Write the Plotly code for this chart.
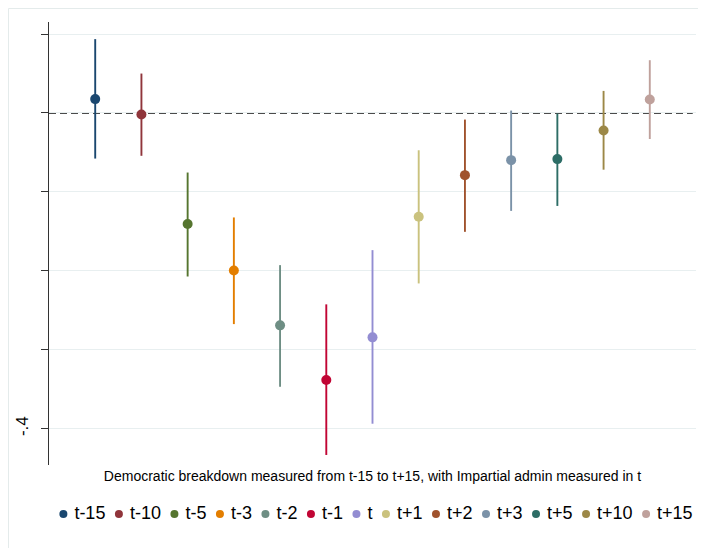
import plotly.graph_objects as go

# ---------------- data ----------------
labels = ["t-15", "t-10", "t-5", "t-3", "t-2", "t-1", "t",
          "t+1", "t+2", "t+3", "t+5", "t+10", "t+15"]
estimates = [0.0175, -0.0020, -0.1408, -0.1995, -0.2691, -0.3384, -0.2843,
             -0.1316, -0.0788, -0.0598, -0.0585, -0.0223, 0.0170]
upper_ci = [0.0935, 0.0499, -0.0755, -0.1324, -0.1928, -0.2425, -0.1738,
            -0.0473, -0.0084, 0.0030, -0.0008, 0.0279, 0.0668]
lower_ci = [-0.0578, -0.0543, -0.2072, -0.2675, -0.3469, -0.4333, -0.3937,
            -0.2160, -0.1506, -0.1241, -0.1178, -0.0719, -0.0330]
colors = ["#1a476f", "#90353b", "#55752f", "#e37e00", "#6e8e84", "#c10534",
          "#938dd2", "#cac27e", "#a0522d", "#7b92a8", "#2d6d66", "#9c8847",
          "#bfa19c"]
y_tickvals = [0.1, 0.0, -0.1, -0.2, -0.3, -0.4]
y_ticktext = ["", "", "", "", "", "-.4"]
x_title = "Democratic breakdown measured from t-15 to t+15, with Impartial admin measured in t"

# ---------------- layout constants ----------------
# the page puts the figure 8px in from the window's top-left corner
W, H = 690, 540
ML, MR, MT, MB = 41, 2, 14, 0
PW = W - ML - MR
PH = H - MT - MB
FONT = "Liberation Sans, Arial, sans-serif"
LEG_FONT = 18
MAIN_BOTTOM_PX = 457
LEG_CENTER_PX = 506

main_lo = (H - MB - MAIN_BOTTOM_PX) / PH
leg_hi = 2 * (H - MB - LEG_CENTER_PX) / PH

fig = go.Figure()

for i, lab in enumerate(labels):
    fig.add_trace(go.Scatter(
        x=[i + 1], y=[estimates[i]], mode="markers", name=lab,
        marker=dict(color=colors[i], size=10),
        error_y=dict(type="data", symmetric=False,
                     array=[upper_ci[i] - estimates[i]],
                     arrayminus=[estimates[i] - lower_ci[i]],
                     color=colors[i], thickness=1.9, width=0),
        showlegend=False, xaxis="x", yaxis="y"))

# ---------------- custom one-row legend ----------------
char_w = {"t": 0.278, "-": 0.333, "+": 0.584}
def text_w(s):
    return sum(char_w.get(c, 0.556) for c in s) * LEG_FONT

gap_marker_text = 10
gap_text_marker = 14.5
pos = [0.0]
for lab in labels[:-1]:
    pos.append(pos[-1] + gap_marker_text + text_w(lab) + gap_text_marker)
extent_left = -4
extent_right = pos[-1] + gap_marker_text + text_w(labels[-1])
shift = PW / 2 + 3 - (extent_left + extent_right) / 2
leg_x = [p + shift for p in pos]

fig.add_trace(go.Scatter(
    x=leg_x, y=[0.5] * len(labels), mode="markers+text",
    text=["\u00a0" + l for l in labels], textposition="middle right",
    textfont=dict(family=FONT, size=LEG_FONT, color="#000000"),
    marker=dict(color=colors, size=8), cliponaxis=False,
    hoverinfo="skip", showlegend=False, xaxis="x2", yaxis="y2"))

fig.update_layout(
    width=W, height=H,
    margin=dict(l=ML, r=MR, t=MT, b=MB),
    paper_bgcolor="white", plot_bgcolor="white",
    font=dict(family=FONT, color="#000000"),
    showlegend=False,
    xaxis=dict(domain=[0, 1], range=[0, 14], showgrid=False, zeroline=False,
               showticklabels=False, ticks="", showline=False,
               anchor="y",
               title=dict(text=x_title, font=dict(family=FONT, size=14, color="#000000"),
                          standoff=6)),
    yaxis=dict(domain=[main_lo, 1], range=[-0.446, 0.1152], anchor="x",
               tickvals=y_tickvals, ticktext=y_ticktext,
               ticks="outside", ticklen=7, tickwidth=1, tickcolor="#333333",
               showline=True, linecolor="#333333", linewidth=1,
               showgrid=True, gridcolor="#e8eff0", gridwidth=1,
               zeroline=False, tickangle=-90, ticklabelstandoff=6,
               tickfont=dict(family=FONT, size=17, color="#000000")),
    xaxis2=dict(domain=[0, 1], range=[0, PW], visible=False, anchor="y2"),
    yaxis2=dict(domain=[0, leg_hi], range=[0, 1], visible=False, anchor="x2"),
    shapes=[
        dict(type="line", xref="paper", yref="y", x0=0, x1=0.995, y0=0, y1=0,
             line=dict(color="#111111", width=1.5, dash="7px,4px"), layer="below"),
        dict(type="rect", xref="paper", yref="paper",
             x0=(0.5 - ML) / PW, x1=1.2, y0=-0.2, y1=(H - MB - 0.5) / PH,
             line=dict(color="#e4ebeb", width=1), fillcolor="rgba(0,0,0,0)",
             layer="below"),
    ],
)

fig.write_html("out.html")
